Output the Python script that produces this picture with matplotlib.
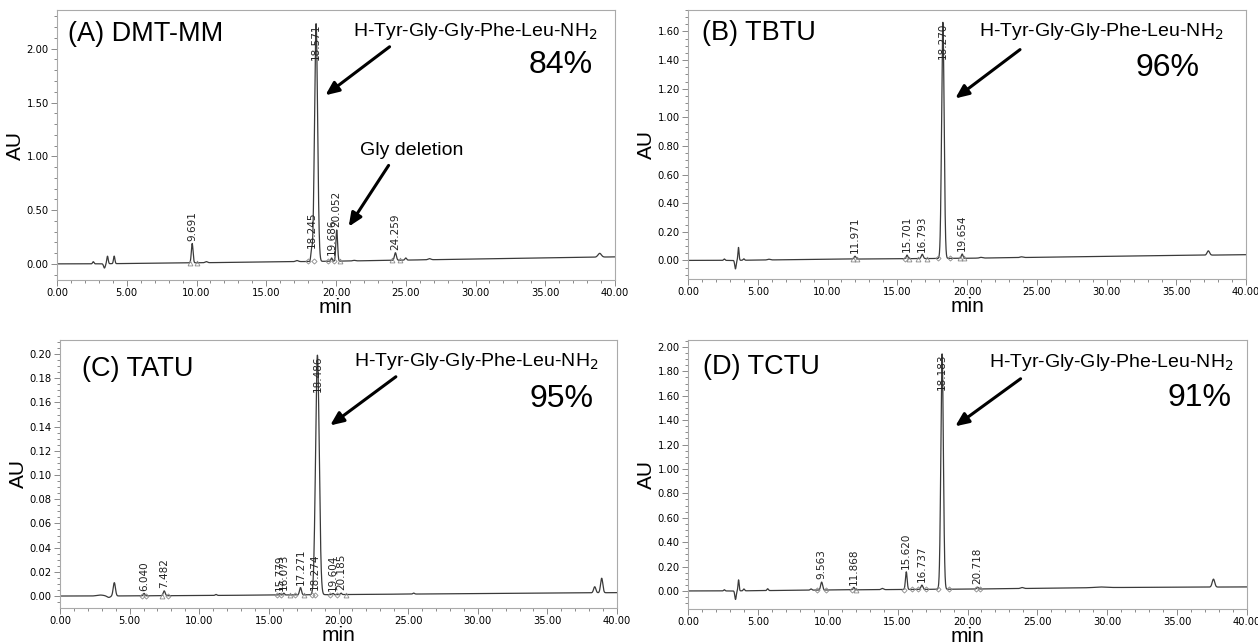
import numpy as np
import matplotlib.pyplot as plt
from matplotlib.ticker import MultipleLocator, AutoMinorLocator

plt.rcParams['font.family'] = ['Liberation Sans', 'DejaVu Sans']

t = np.linspace(0, 40, 8001)

# (A) DMT-MM : peak retention times (min), heights (AU), widths (sigma, min)
a_rt = [2.6, 3.4, 3.62, 4.1, 9.691, 10.7, 17.2, 18.245, 18.571, 19.686, 20.052, 21.3, 24.259, 25.0, 26.7, 38.9]
a_h = [0.02, -0.04, 0.07, 0.07, 0.18, 0.01, 0.01, 0.10, 2.21, 0.03, 0.29, 0.005, 0.07, 0.02, 0.01, 0.035]
a_w = [0.05, 0.06, 0.05, 0.05, 0.06, 0.08, 0.1, 0.05, 0.11, 0.05, 0.06, 0.1, 0.07, 0.06, 0.1, 0.12]
a_base_t = [0, 2.5, 10, 20, 30, 40]
a_base_y = [0, 0, 0.01, 0.025, 0.045, 0.065]
a_labels = [9.691, 18.245, 18.571, 19.686, 20.052, 24.259]
a_tri = [9.5, 10.0, 20.3, 24.0, 24.6]
a_dia = [18.0, 18.4, 19.45, 19.85]

# (B) TBTU
b_rt = [2.6, 3.4, 3.62, 4.0, 5.8, 11.971, 15.701, 16.793, 18.270, 19.654, 21.0, 23.9, 37.3]
b_h = [0.01, -0.06, 0.09, 0.01, 0.005, 0.02, 0.025, 0.03, 1.65, 0.03, 0.005, 0.005, 0.03]
b_w = [0.05, 0.05, 0.04, 0.05, 0.1, 0.07, 0.06, 0.07, 0.09, 0.06, 0.1, 0.1, 0.09]
b_base_t = [0, 3, 10, 20, 30, 40]
b_base_y = [0, 0, 0.008, 0.015, 0.028, 0.04]
b_labels = [11.971, 15.701, 16.793, 18.270, 19.654]
b_tri = [11.8, 12.15, 15.85, 16.5, 17.1, 19.5, 19.8]
b_dia = [15.55, 17.95, 18.75]

# (C) TATU
c_rt = [2.9, 3.5, 3.9, 6.040, 7.482, 11.2, 15.779, 16.073, 17.271, 18.274, 18.486, 19.604, 20.185, 25.4, 38.4, 38.9]
c_h = [0.0008, -0.0012, 0.011, 0.002, 0.004, 0.0008, 0.0012, 0.0015, 0.006, 0.002, 0.198, 0.001, 0.0012, 0.0008, 0.005, 0.012]
c_w = [0.25, 0.12, 0.08, 0.06, 0.07, 0.06, 0.05, 0.05, 0.07, 0.05, 0.13, 0.05, 0.05, 0.06, 0.08, 0.08]
c_base_t = [0, 3, 10, 20, 30, 40]
c_base_y = [0, 0, 0.0004, 0.0012, 0.002, 0.0028]
c_labels = [6.040, 7.482, 15.779, 16.073, 17.271, 18.274, 18.486, 19.604, 20.185]
c_tri = [7.35, 16.5, 17.55, 20.55]
c_dia = [5.9, 6.2, 7.75, 15.6, 15.85, 16.9, 18.1, 18.3, 19.4, 19.9]

# (D) TCTU
d_rt = [2.6, 3.4, 3.62, 4.0, 5.7, 8.8, 9.563, 11.868, 13.9, 15.620, 16.737, 18.183, 20.718, 23.9, 29.5, 37.6]
d_h = [0.01, -0.07, 0.09, 0.015, 0.015, 0.01, 0.065, 0.02, 0.01, 0.145, 0.035, 1.93, 0.015, 0.008, 0.005, 0.065]
d_w = [0.05, 0.05, 0.04, 0.05, 0.05, 0.06, 0.07, 0.06, 0.08, 0.06, 0.07, 0.09, 0.06, 0.1, 0.4, 0.09]
d_base_t = [0, 3, 10, 20, 30, 40]
d_base_y = [0, 0, 0.008, 0.015, 0.028, 0.033]
d_labels = [9.563, 11.868, 15.620, 16.737, 18.183, 20.718]
d_tri = [12.0]
d_dia = [9.2, 9.85, 11.7, 15.45, 16.0, 16.45, 17.05, 17.9, 18.65, 20.6, 20.9]

panels = [
    dict(rt=a_rt, h=a_h, w=a_w, bt=a_base_t, by=a_base_y, labels=a_labels, tri=a_tri, dia=a_dia,
         title='(A) DMT-MM', pct='84%', ylim=(-0.15, 2.36), major=0.5, minor=5,
         rect=(57, 10, 615, 280), arrow=((0.600, 0.870), (0.477, 0.678)),
         cmp=(0.75, 0.92), pctpos=(0.96, 0.795), titlepos=(0.02, 0.91)),
    dict(rt=b_rt, h=b_h, w=b_w, bt=b_base_t, by=b_base_y, labels=b_labels, tri=b_tri, dia=b_dia,
         title='(B) TBTU', pct='96%', ylim=(-0.13, 1.75), major=0.2, minor=4,
         rect=(688, 10, 1246, 279), arrow=((0.599, 0.859), (0.475, 0.665)),
         cmp=(0.74, 0.92), pctpos=(0.917, 0.785), titlepos=(0.025, 0.915)),
    dict(rt=c_rt, h=c_h, w=c_w, bt=c_base_t, by=c_base_y, labels=c_labels, tri=c_tri, dia=c_dia,
         title='(C) TATU', pct='95%', ylim=(-0.0099, 0.2116), major=0.02, minor=4,
         rect=(60, 340, 617, 608), arrow=((0.607, 0.869), (0.481, 0.675)),
         cmp=(0.747, 0.918), pctpos=(0.957, 0.78), titlepos=(0.04, 0.89)),
    dict(rt=d_rt, h=d_h, w=d_w, bt=d_base_t, by=d_base_y, labels=d_labels, tri=d_tri, dia=d_dia,
         title='(D) TCTU', pct='91%', ylim=(-0.148, 2.057), major=0.2, minor=4,
         rect=(688, 340, 1247, 609), arrow=((0.599, 0.862), (0.474, 0.673)),
         cmp=(0.758, 0.915), pctpos=(0.973, 0.784), titlepos=(0.027, 0.90)),
]

W, H = 1258, 643
fig = plt.figure(figsize=(W / 100, H / 100), dpi=100)

for p in panels:
    l, tp, r, b = p['rect']
    ax = fig.add_axes([l / W, (H - b) / H, (r - l) / W, (b - tp) / H])

    base = np.interp(t, p['bt'], p['by'])
    sig = base.copy()
    for rt, h, w in zip(p['rt'], p['h'], p['w']):
        sig += h * np.exp(-0.5 * ((t - rt) / w) ** 2)
    ax.plot(t, sig, color='#3a3a3a', lw=0.9)

    # integration start/end markers
    ax.plot(p['tri'], np.interp(p['tri'], p['bt'], p['by']), ls='none', marker='^', ms=3.5,
            mfc='none', mec='#8a8a8a', mew=0.6)
    ax.plot(p['dia'], np.interp(p['dia'], p['bt'], p['by']), ls='none', marker='D', ms=2.6,
            mfc='none', mec='#8a8a8a', mew=0.6)

    # retention time labels
    top = max(p['h'])
    for lab in p['labels']:
        k = p['rt'].index(lab)
        apex = np.interp(lab, p['bt'], p['by']) + p['h'][k]
        if p['h'][k] == top:
            ax.text(lab, apex, f'{lab:.3f}', rotation=90, ha='center', va='top',
                    fontsize=7.5, family='DejaVu Sans', color='#222222')
        else:
            ax.annotate(f'{lab:.3f}', (lab, apex), xytext=(0, 2), textcoords='offset points',
                        rotation=90, ha='center', va='bottom', fontsize=7.5,
                        family='DejaVu Sans', color='#222222')

    ax.set_xlim(0, 40)
    ax.set_ylim(*p['ylim'])
    ax.xaxis.set_major_locator(MultipleLocator(5))
    ax.xaxis.set_minor_locator(MultipleLocator(1))
    ax.yaxis.set_major_locator(MultipleLocator(p['major']))
    ax.yaxis.set_minor_locator(AutoMinorLocator(p['minor']))
    fmt = '{x:.2f}'
    ax.xaxis.set_major_formatter(fmt)
    ax.yaxis.set_major_formatter(fmt)
    ax.tick_params(which='both', direction='out', color='#777777', labelsize=7.2, width=0.6)
    ax.tick_params(which='major', length=4, pad=2)
    ax.tick_params(which='minor', length=2)
    for lbl in ax.get_xticklabels() + ax.get_yticklabels():
        lbl.set_family('DejaVu Sans')
    for s in ax.spines.values():
        s.set_color('#aaaaaa')
        s.set_linewidth(0.8)

    ax.set_ylabel('AU', fontsize=15, labelpad=1)
    ax.set_xlabel('min', fontsize=15, labelpad=0)

    ax.text(*p['titlepos'], p['title'], transform=ax.transAxes, fontsize=19.5, va='center', ha='left')
    ax.text(*p['cmp'], r'H-Tyr-Gly-Gly-Phe-Leu-NH$_2$', transform=ax.transAxes, fontsize=14,
            va='center', ha='center')
    ax.text(*p['pctpos'], p['pct'], transform=ax.transAxes, fontsize=23, va='center', ha='right')
    tail, tip = p['arrow']
    ax.annotate('', xy=tip, xytext=tail, xycoords='axes fraction', textcoords='axes fraction',
                arrowprops=dict(arrowstyle='-|>,head_length=0.8,head_width=0.35', color='black', lw=2.2))

# extra annotation for panel A
axA = fig.axes[0]
axA.text(0.636, 0.48, 'Gly deletion', transform=axA.transAxes, fontsize=14, va='center', ha='center')
axA.annotate('', xy=(0.52, 0.189), xytext=(0.597, 0.433), xycoords='axes fraction',
             textcoords='axes fraction',
             arrowprops=dict(arrowstyle='-|>,head_length=0.8,head_width=0.35', color='black', lw=2.2))

fig.savefig('out.png', dpi=100)
